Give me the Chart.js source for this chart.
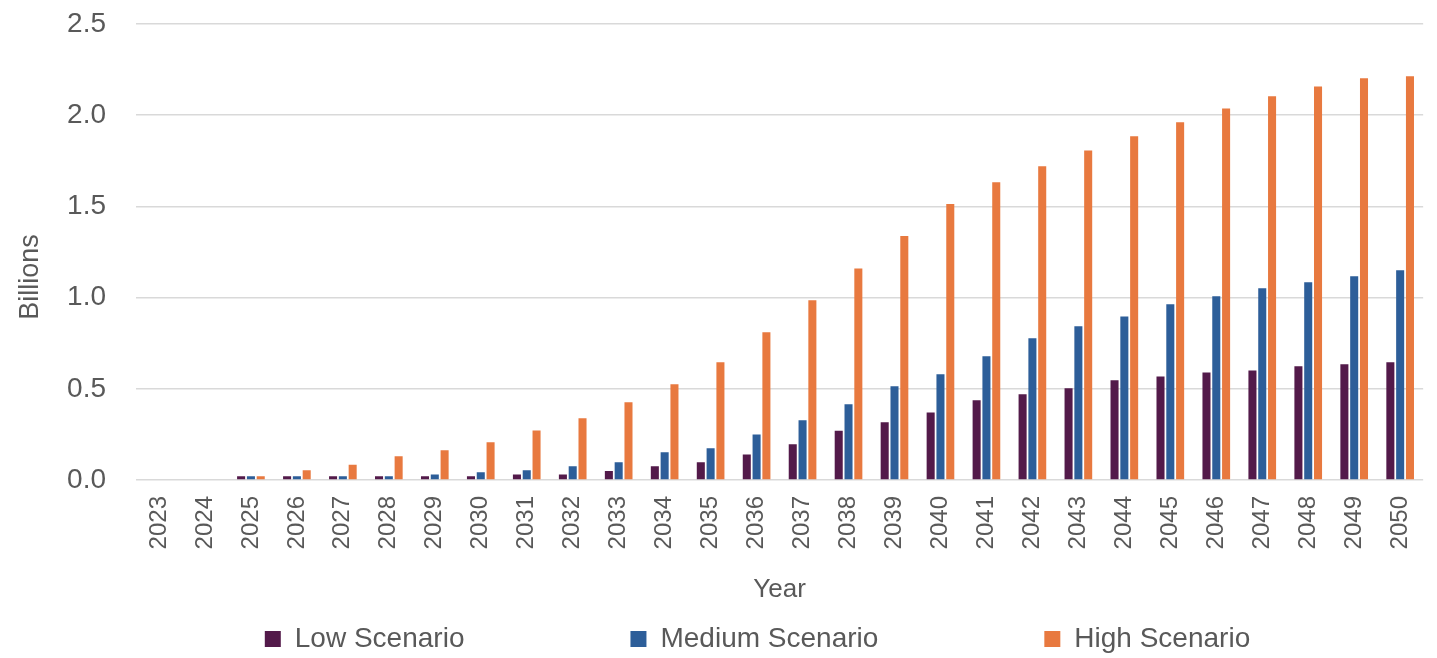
<!DOCTYPE html>
<html>
<head>
<meta charset="utf-8">
<script src="https://cdn.jsdelivr.net/npm/chart.js@4"></script>
<style>
    body { margin: 0; background: #ffffff; }
    #wrap { width: 1437px; height: 658px; position: relative; }
</style>
</head>
<body>
<div id="wrap"><canvas id="myChart"></canvas></div>
<script>
const years = ['2023', '2024', '2025', '2026', '2027', '2028', '2029', '2030', '2031', '2032',
    '2033', '2034', '2035', '2036', '2037', '2038', '2039', '2040', '2041', '2042',
    '2043', '2044', '2045', '2046', '2047', '2048', '2049', '2050'];

const lowScenario = [0, 0, 0.02, 0.02, 0.02, 0.02, 0.02, 0.02, 0.03, 0.03,
    0.05, 0.075, 0.097, 0.14, 0.196, 0.27, 0.316, 0.37, 0.437, 0.47,
    0.503, 0.547, 0.568, 0.59, 0.601, 0.623, 0.634, 0.645];
const mediumScenario = [0, 0, 0.02, 0.02, 0.02, 0.02, 0.03, 0.042, 0.053, 0.075,
    0.097, 0.152, 0.174, 0.25, 0.327, 0.415, 0.514, 0.58, 0.678, 0.777,
    0.843, 0.897, 0.963, 1.007, 1.051, 1.084, 1.117, 1.15];
const highScenario = [0, 0, 0.02, 0.053, 0.084, 0.13, 0.163, 0.207, 0.272, 0.338,
    0.426, 0.525, 0.645, 0.81, 0.985, 1.16, 1.338, 1.513, 1.632, 1.72,
    1.807, 1.884, 1.961, 2.037, 2.104, 2.158, 2.202, 2.213];

const yTicks = [0, 0.5, 1.0, 1.5, 2.0, 2.5];

const textGray = '#595959';
const fontName = "'Liberation Sans', Arial, sans-serif";
const legendGap = 166;

function makeSet(label, values, color) {
    return {
        label: label,
        data: values,
        backgroundColor: color,
        borderWidth: 0,
        categoryPercentage: 0.64,
        barPercentage: 0.82
    };
}

// the legend padding is used both between items and above them,
// so keep the box short and draw the row a bit higher
const legendSpread = {
    id: 'legendSpread',
    afterInit: function (chart) {
        const lg = chart.legend;
        const origDraw = lg._draw;
        lg._draw = function () {
            const t = this.top, l = this.left, r = this.right;
            this.top = t - legendGap + 11;
            this.left = l + 40;
            this.right = r + 40;
            origDraw.call(this);
            this.top = t;
            this.left = l;
            this.right = r;
        };
    },
    // "Billions" sits a little below the middle of the axis
    afterLayout: function (chart) {
        const ys = chart.scales.y;
        if (ys._titleMoved) return;
        ys._titleMoved = true;
        const origTitle = ys.drawTitle;
        ys.drawTitle = function () {
            this.top += 25;
            this.bottom += 25;
            origTitle.call(this);
            this.top -= 25;
            this.bottom -= 25;
        };
    }
};

const data = {
    labels: years,
    datasets: [
        makeSet('Low Scenario', lowScenario, '#531a4a'),
        makeSet('Medium Scenario', mediumScenario, '#2d5e99'),
        makeSet('High Scenario', highScenario, '#e8793f')
    ]
};

const config = {
    type: 'bar',
    data: data,
    plugins: [legendSpread],
    options: {
        responsive: true,
        maintainAspectRatio: false,
        animation: false,
        layout: {
            padding: { left: 0, right: 2, top: 24, bottom: 0 }
        },
        plugins: {
            tooltip: { enabled: false },
            legend: {
                position: 'bottom',
                maxHeight: 44,
                labels: {
                    color: textGray,
                    font: { family: fontName, size: 28 },
                    boxWidth: 16,
                    boxHeight: 16,
                    padding: legendGap
                }
            }
        },
        scales: {
            x: {
                afterFit: function (axis) { axis.height = 134; },
                grid: { display: false },
                border: { display: false },
                ticks: {
                    color: textGray,
                    font: { family: fontName, size: 24 },
                    minRotation: 90,
                    maxRotation: 90,
                    padding: 8
                },
                title: {
                    display: true,
                    text: 'Year',
                    color: textGray,
                    font: { family: fontName, size: 26 },
                    padding: { top: 4, bottom: 9 }
                }
            },
            y: {
                min: 0,
                max: 2.5,
                afterFit: function (axis) {
                    axis.width = 136;
                    axis.paddingTop = 0;
                },
                afterBuildTicks: function (axis) {
                    axis.ticks = yTicks.map(function (v) { return { value: v }; });
                },
                grid: {
                    color: '#d9d9d9',
                    lineWidth: 1.5,
                    drawTicks: false
                },
                border: { display: false },
                ticks: {
                    color: textGray,
                    font: { family: fontName, size: 28 },
                    padding: 30,
                    callback: function (v) { return Number(v).toFixed(1); }
                },
                title: {
                    display: true,
                    text: 'Billions',
                    color: textGray,
                    font: { family: fontName, size: 27 },
                    padding: { top: 14, bottom: 0 }
                }
            }
        }
    }
};

const myChart = new Chart(document.getElementById('myChart').getContext('2d'), config);
</script>
</body>
</html>
